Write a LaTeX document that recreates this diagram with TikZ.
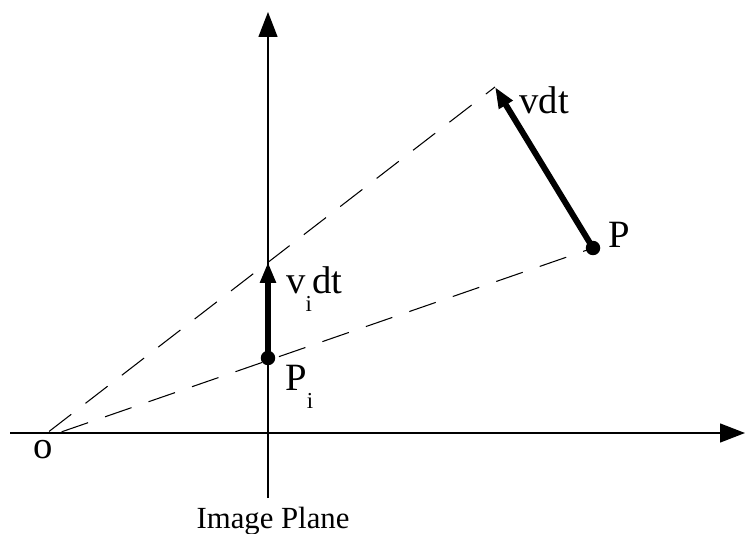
\documentclass[tikz,border=0pt]{standalone}
\usepackage{fontspec}
\setmainfont{Liberation Serif}
\usetikzlibrary{
    arrows.meta,
    positioning
}
\newcommand{\lowsub}[1]{\raisebox{-10.5pt}{\fontsize{13}{13}\selectfont #1}}
\tikzset{
    axis line/.style={
        line width=0.8pt, -{Triangle[length=0.5cm, width=0.38cm]}
    },
    ray line/.style={
        line width=0.6pt, dash pattern=on 0.56cm off 0.36cm
    },
    motion/.style={
        line width=3.4pt, -{Triangle[length=0.42cm, width=0.3cm]}
    },
    point dot/.style={
        circle, fill=black, inner sep=0pt, minimum size=0.29cm
    },
    lbl/.style={
        inner sep=0pt, font=\fontsize{22}{25}\selectfont
    },
}

\begin{document}
\begin{tikzpicture}[x=0.02cm, y=-0.02cm]
    \useasboundingbox (0,0) rectangle (745,534);

    % Axes
    \coordinate (xstart) at (10,433);
    \coordinate (xend) at (745,433);
    \coordinate (ystart) at (268,498);
    \coordinate (yend) at (268,12);
    \draw[axis line] (xstart) -- (xend);
    \draw[axis line] (ystart) -- (yend);

    % Points and rays
    \coordinate (O) at (38,440);
    \node[point dot] (P) at (593,248) {};
    \node[point dot] (Pi) at (268,358) {};
    \coordinate (Ptip) at (495,87);
    \coordinate (Pitip) at (268,262);

    \draw[ray line, shorten <=0.28cm] (O) -- (Ptip);
    \draw[ray line, shorten <=0.5cm] (O) -- (P.center);

    \draw[motion] (P.center) -- (Ptip);
    \draw[motion] (Pi.center) -- (Pitip);

    % Labels
    \node[lbl, anchor=base west] (olbl) at (33,458) {o};
    \node[lbl, anchor=base west] (Plbl) at (608,247) {P};
    \node[lbl, anchor=base west] (vdtlbl) at (519,113) {vdt};
    \node[lbl, anchor=base west] (Pilbl) at (285,390) {P\lowsub{i}};
    \node[lbl, anchor=base west] (vidtlbl) at (286,293) {v\lowsub{i}dt};
    \node[anchor=base, inner sep=0pt, font=\fontsize{17.5}{20}\selectfont] (plane) at (273,528) {Image Plane};
\end{tikzpicture}
\end{document}
